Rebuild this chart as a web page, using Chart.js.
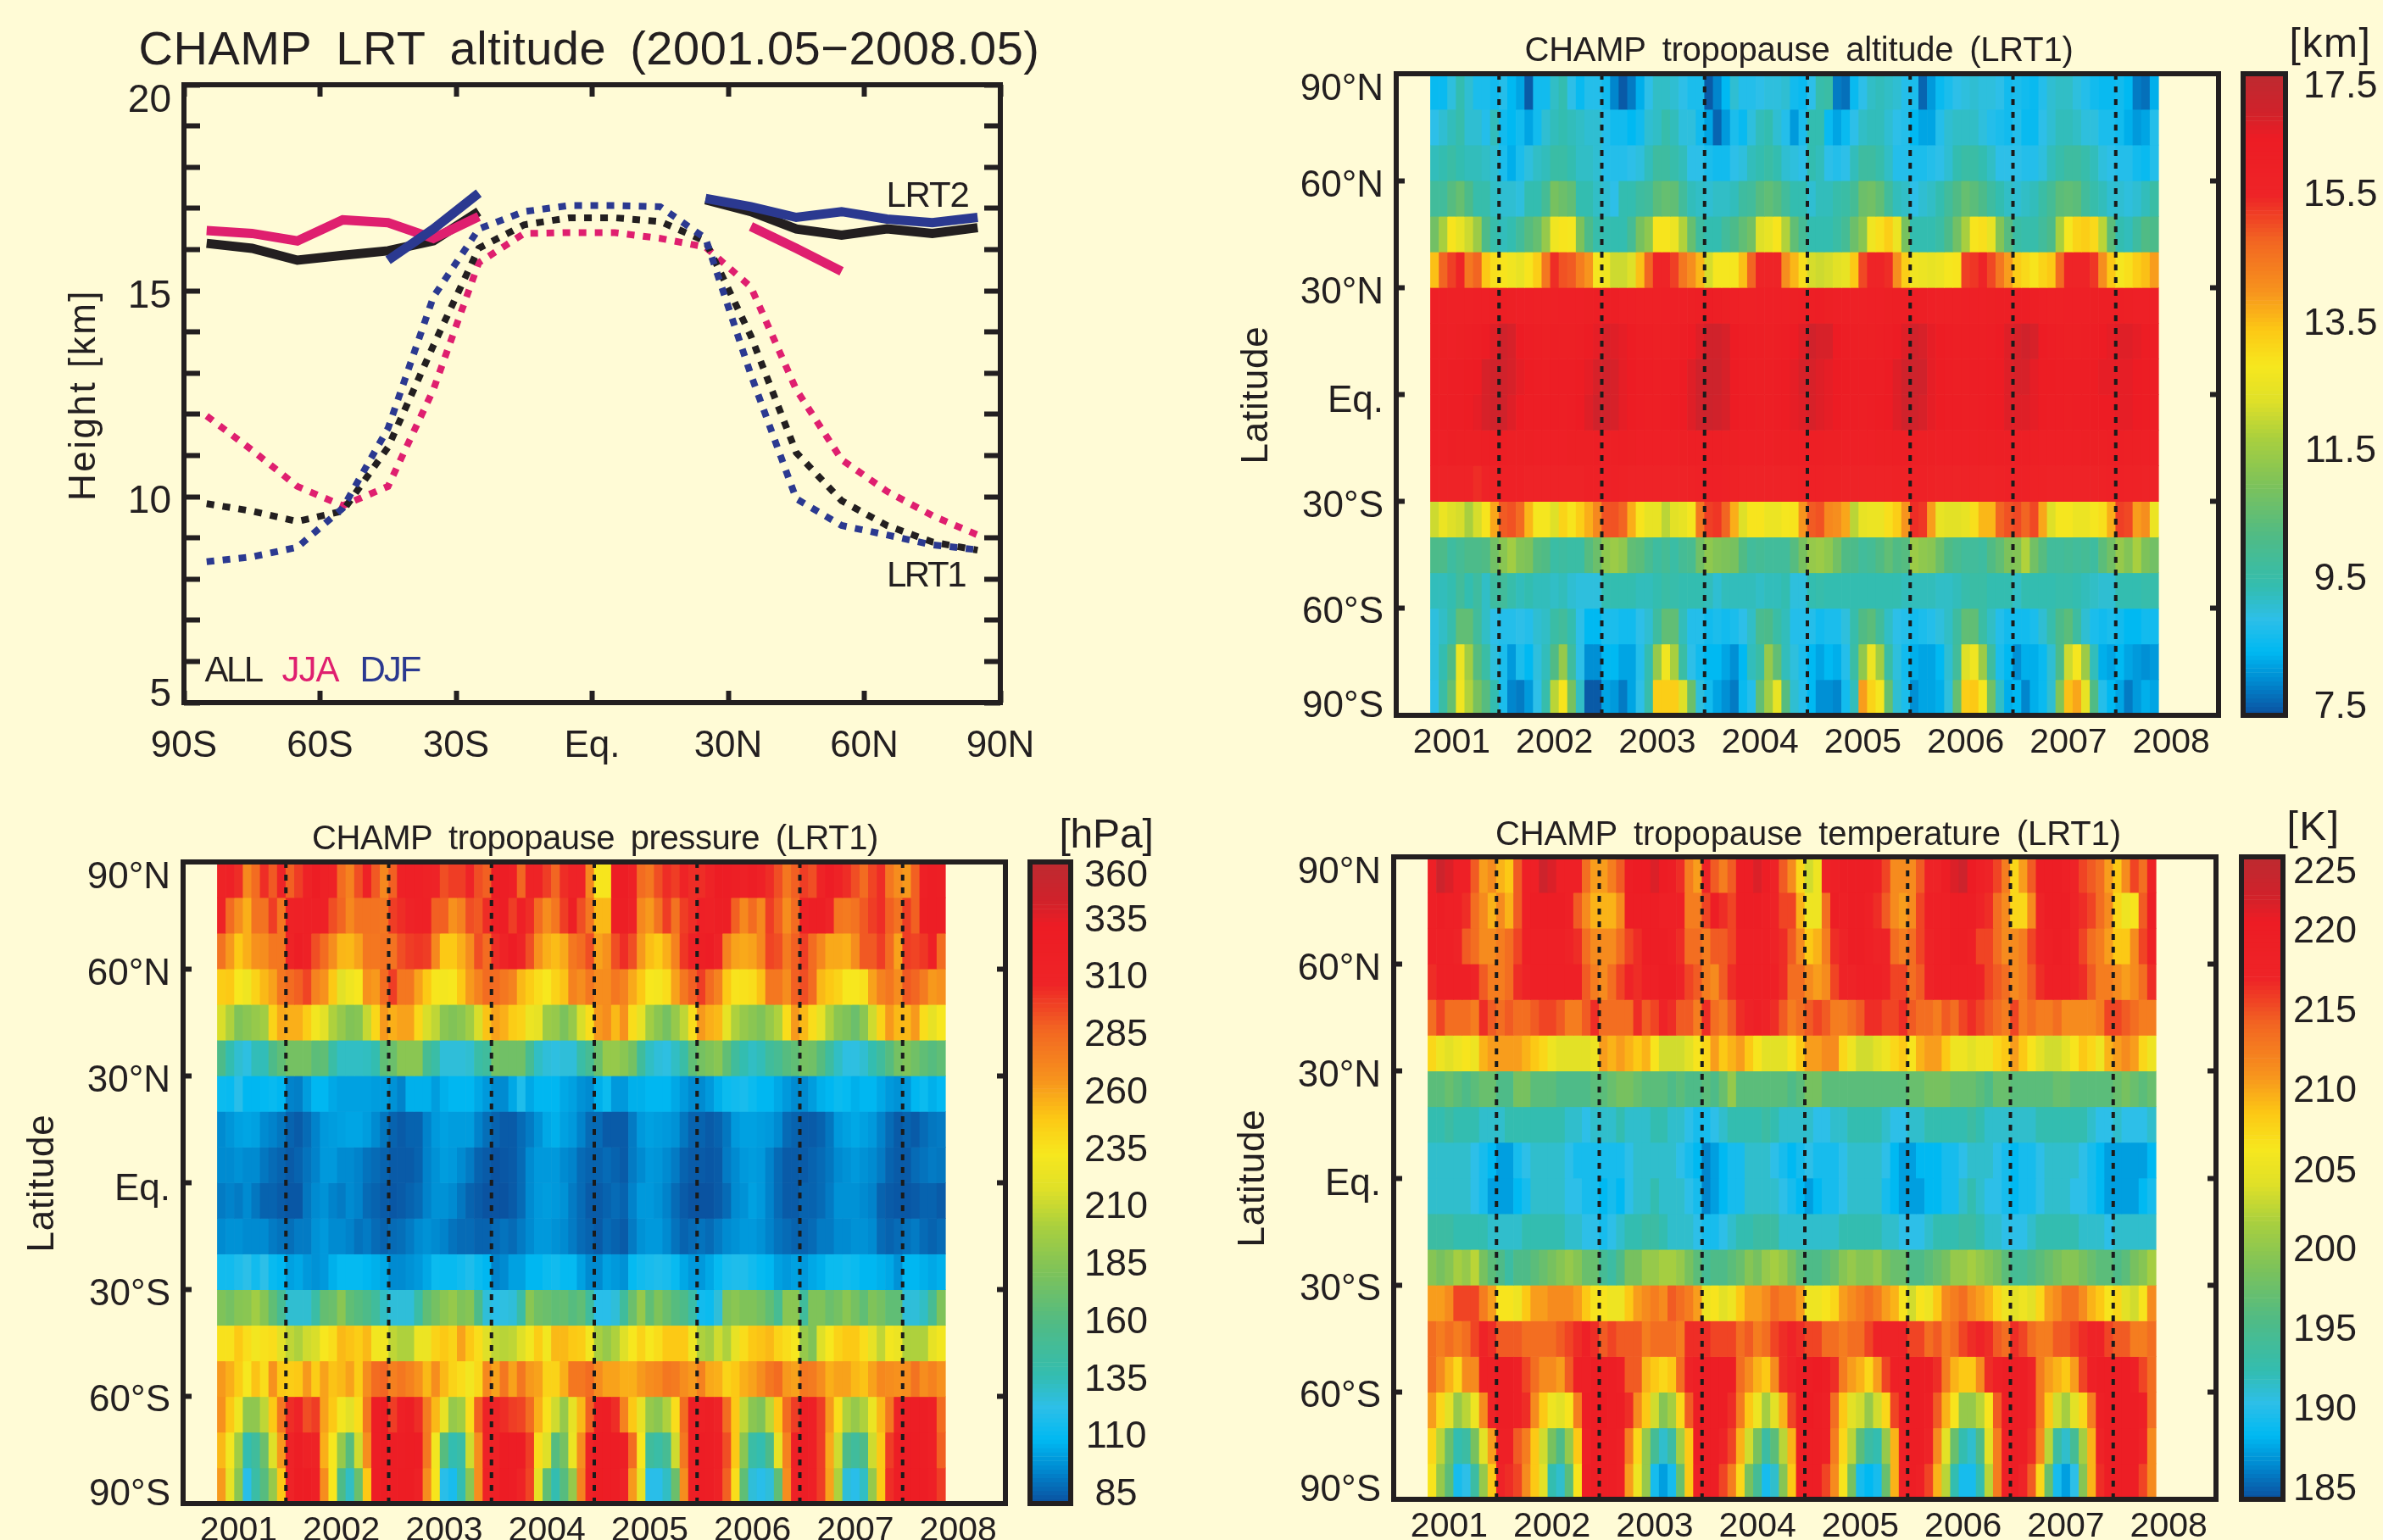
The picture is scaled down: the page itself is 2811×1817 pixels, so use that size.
<!DOCTYPE html>
<html><head><meta charset="utf-8">
<script src="https://cdn.jsdelivr.net/npm/chart.js@4"></script>
<style>html,body{margin:0;padding:0;background:#fffbd6;width:2811px;height:1817px;overflow:hidden}
canvas{position:absolute;left:0;top:0}</style></head><body>
<script>
// ---- line panel ----
const bandCentres=[-85,-75,-65,-55,-45,-35,-25,-15,-5,5,15,25,35,45,55,65,75,85];
const lrt1All=[9.83,9.65,9.4,9.65,11.2,13.67,16.03,16.6,16.77,16.77,16.68,16.2,13.9,11.07,9.9,9.3,8.9,8.7];
const lrt1Jja=[11.96,11.13,10.25,9.78,10.25,12.6,15.68,16.39,16.41,16.41,16.27,16.06,15.09,12.6,10.9,10.13,9.54,9.07];
const lrt1Djf=[8.42,8.54,8.77,9.72,11.66,14.85,16.5,16.92,17.07,17.07,17.04,16.27,12.96,9.95,9.3,9.07,8.83,8.71];
const lrt2All=[16.15,16.03,15.74,15.86,15.97,16.21,16.92,null,null,null,null,17.21,16.92,16.5,16.35,16.5,16.39,16.53];
const lrt2Jja=[16.46,16.39,16.21,16.72,16.65,16.27,16.8,null,null,null,null,null,16.56,16.03,15.47,null,null,null];
const lrt2Djf=[null,null,null,null,15.74,16.5,17.37,null,null,null,null,17.24,17.04,16.78,16.92,16.74,16.65,16.78];
const latTicksA=[-90,-60,-30,0,30,60,90];
const latLabelsA=['90S','60S','30S','Eq.','30N','60N','90N'];
const heightLabels=['20','15','10','5'];
const heightLabelPos=[19.6,14.85,9.87,5.18];
// ---- heat panels ----
const bandTops=[90,80,70,60,50,40,30,20,10,0,-10,-20,-30,-40,-50,-60,-70,-80];
const yearBoundaries=[2002,2003,2004,2005,2006,2007,2008];
const yearLabels=['2001','2002','2003','2004','2005','2006','2007','2008'];
const yearLabelPos=[2001.54,2002.54,2003.54,2004.54,2005.54,2006.54,2007.54,2008.54];
const latLabels=['90°N','60°N','30°N','Eq.','30°S','60°S','90°S'];
const latLabelPos=[85.6,58.4,28.5,-1.9,-31.4,-61.3,-87.7];
const latTickMarks=[60,30,0,-30,-60];
const altLabels=['17.5','15.5','13.5','11.5','9.5','7.5'];
const altLabelPos=[17.29,15.6,13.59,11.62,9.62,7.62];
const presLabels=['360','335','310','285','260','235','210','185','160','135','110','85'];
const presLabelPos=[354.1,334.8,310.5,285.7,261.1,236.3,211.9,187.2,162.5,137.8,113.5,88.6];
const tempLabels=['225','220','215','210','205','200','195','190','185'];
const tempLabelPos=[224,220.3,215.35,210.4,205.4,200.5,195.5,190.55,185.6];
// monthly values, May 2001 .. May 2008, one row per 10-degree band from 90N to 90S
const altitude=[
[8.6,8.6,9.1,9.5,9.2,8.8,8.8,8.7,8.9,8.5,8.3,7.6,8.7,8.7,9.3,9.5,9.0,8.6,8.9,8.9,8.7,8.0,7.6,7.9,8.4,9.0,9.3,9.3,9.2,9.0,8.8,8.8,7.6,8.0,8.5,9.2,8.9,8.9,9.0,9.1,9.1,9.2,8.7,8.6,9.0,9.6,9.7,7.9,7.8,8.6,9.0,9.3,9.4,9.3,9.2,8.9,8.8,7.7,8.2,8.6,8.8,9.0,9.1,9.2,9.1,9.1,9.0,8.7,8.8,8.7,8.6,8.9,9.2,9.3,9.3,9.1,8.9,8.7,8.6,8.6,8.7,8.5,7.9,7.8,8.4],
[9.0,9.2,9.4,9.6,9.2,9.2,8.9,9.4,8.7,8.5,8.7,8.3,8.7,9.2,9.4,9.5,9.4,9.3,9.2,9.2,8.9,8.7,8.7,8.5,8.7,9.2,9.3,9.6,9.4,9.1,9.1,8.7,8.3,7.7,8.2,8.8,8.6,9.1,9.4,9.5,9.2,8.9,8.2,8.8,9.5,9.5,8.6,8.3,8.6,9.0,9.3,9.4,9.4,9.2,9.0,8.9,8.5,8.3,8.3,8.9,9.2,9.3,9.3,9.3,9.1,8.9,8.8,8.7,8.9,8.6,8.6,9.0,9.2,9.4,9.4,9.3,9.1,9.1,8.8,8.8,8.7,8.4,8.2,8.3,8.9],
[9.4,9.5,9.7,9.5,9.4,9.4,9.3,9.2,8.8,8.4,8.8,9.1,9.3,9.4,9.7,9.7,9.5,9.3,9.3,9.2,8.9,8.9,8.9,9.0,9.1,9.4,9.8,9.8,9.6,9.4,9.0,9.0,8.8,8.7,8.7,9.0,9.1,9.4,9.5,9.7,9.5,9.2,9.1,9.0,9.5,9.4,9.0,8.9,9.0,9.4,9.8,9.8,9.6,9.3,8.9,8.9,8.8,8.8,8.9,9.0,9.2,9.5,9.7,9.7,9.5,9.3,9.0,9.0,9.0,8.9,8.9,9.1,9.4,9.6,9.8,9.8,9.6,9.4,9.1,9.0,8.9,8.9,8.7,8.6,8.9],
[9.9,9.9,10.4,10.7,10.2,9.6,9.6,9.3,9.2,9.2,9.1,9.5,9.5,10.0,11.0,10.8,10.6,9.5,9.5,9.3,9.2,9.0,9.5,9.5,9.8,9.9,10.5,10.7,10.6,9.9,9.4,9.3,9.2,9.3,9.3,9.4,9.8,9.9,10.4,10.6,10.4,9.9,9.5,9.5,9.2,9.4,9.4,9.6,9.7,10.0,10.8,10.9,10.6,9.9,9.4,9.3,9.0,9.2,9.3,9.5,9.9,10.3,10.7,10.5,10.2,9.8,9.5,9.3,9.2,9.3,9.4,9.7,10.0,10.5,10.6,10.5,9.9,9.6,9.4,9.2,9.2,9.1,9.2,9.4,9.7],
[10.9,11.8,13.0,12.6,12.2,11.6,10.2,9.6,9.4,9.5,9.9,10.4,10.7,11.5,12.8,13.0,12.9,11.1,10.2,9.6,9.5,9.5,9.5,10.0,11.0,11.4,13.0,13.0,12.7,11.9,10.7,9.8,9.5,9.5,9.9,10.2,10.6,10.9,12.4,12.6,13.0,11.9,10.6,10.0,9.5,9.5,9.5,9.7,10.0,10.8,11.3,12.8,13.1,13.4,12.7,11.0,9.5,9.5,9.5,9.7,10.2,10.9,11.8,13.0,13.1,12.6,11.2,10.4,9.7,9.6,9.6,9.9,10.2,11.8,12.9,13.3,13.4,13.2,12.0,10.5,9.5,9.4,9.8,10.3,10.2],
[13.6,14.9,15.3,15.6,14.6,14.9,13.5,13.1,13.0,12.8,12.6,13.0,13.4,14.6,15.5,15.1,15.0,14.5,14.1,12.9,12.8,12.2,12.2,12.4,13.6,14.9,15.6,15.6,15.3,14.6,14.2,13.7,12.3,12.9,12.9,12.9,13.6,14.9,15.6,15.6,15.6,14.2,13.7,13.1,12.3,12.2,12.3,12.5,12.6,13.5,15.2,15.6,15.6,15.5,14.2,13.4,12.8,12.7,12.6,12.7,12.9,13.0,15.3,15.4,15.6,15.2,14.6,14.0,13.4,13.2,13.0,13.3,13.5,14.8,15.6,15.6,15.6,15.4,14.2,13.5,12.9,13.1,13.4,13.6,14.0],
[16.0,16.0,15.9,15.9,15.9,16.0,16.0,16.1,16.2,16.1,16.0,16.0,15.9,15.9,15.9,16.0,16.0,16.0,16.1,16.2,16.3,16.2,16.0,16.0,15.9,15.9,15.9,16.0,16.0,16.0,16.1,16.2,16.3,16.2,16.1,16.0,15.9,15.9,16.0,16.0,16.0,16.0,16.1,16.2,16.2,16.3,16.1,16.0,16.0,15.9,15.9,16.0,16.0,16.1,16.2,16.2,16.3,16.2,16.0,15.9,15.9,15.9,16.0,16.0,16.0,16.1,16.2,16.2,16.3,16.3,16.2,16.0,15.9,15.9,16.0,16.0,16.0,16.1,16.2,16.2,16.2,16.1,16.0,16.0,16.0],
[16.1,16.1,16.0,16.1,16.2,16.3,16.5,16.7,16.9,16.8,16.5,16.3,16.2,16.1,16.2,16.1,16.1,16.2,16.4,16.6,16.8,16.7,16.6,16.4,16.2,16.2,16.1,16.1,16.2,16.3,16.5,16.7,16.9,16.9,16.8,16.5,16.3,16.2,16.2,16.1,16.2,16.3,16.5,16.7,16.9,16.8,16.8,16.5,16.3,16.2,16.1,16.1,16.2,16.3,16.5,16.7,16.9,16.8,16.6,16.4,16.3,16.2,16.2,16.2,16.2,16.3,16.5,16.7,16.8,16.9,16.8,16.5,16.3,16.2,16.1,16.1,16.2,16.3,16.5,16.6,16.7,16.7,16.6,16.4,16.3],
[16.2,16.2,16.3,16.3,16.4,16.5,16.8,16.9,16.9,16.8,16.6,16.4,16.3,16.2,16.3,16.3,16.3,16.4,16.6,16.8,16.9,16.8,16.6,16.5,16.3,16.3,16.2,16.3,16.3,16.5,16.7,16.9,17.0,17.0,16.8,16.5,16.3,16.2,16.2,16.2,16.3,16.4,16.6,16.8,16.8,16.7,16.6,16.5,16.4,16.3,16.3,16.3,16.3,16.5,16.7,16.9,17.0,16.9,16.6,16.4,16.3,16.2,16.2,16.3,16.3,16.4,16.5,16.7,16.8,16.8,16.6,16.4,16.4,16.3,16.3,16.3,16.3,16.4,16.6,16.6,16.6,16.6,16.5,16.4,16.3],
[16.2,16.3,16.3,16.3,16.4,16.6,16.8,16.9,16.9,16.7,16.5,16.3,16.3,16.3,16.3,16.2,16.3,16.5,16.7,16.9,16.9,16.8,16.6,16.4,16.3,16.2,16.2,16.3,16.4,16.5,16.7,16.9,17.0,16.9,16.8,16.5,16.3,16.3,16.2,16.2,16.3,16.4,16.6,16.7,16.8,16.7,16.6,16.5,16.3,16.3,16.2,16.3,16.4,16.5,16.7,16.9,16.9,16.8,16.6,16.4,16.3,16.3,16.2,16.2,16.3,16.4,16.5,16.7,16.7,16.7,16.6,16.4,16.3,16.3,16.2,16.3,16.3,16.4,16.5,16.5,16.6,16.6,16.5,16.4,16.3],
[16.0,16.0,16.2,16.1,16.1,16.1,16.2,16.2,16.2,16.1,16.1,16.1,16.0,16.0,16.0,16.0,16.1,16.1,16.1,16.2,16.2,16.1,16.2,16.1,16.0,16.0,16.0,16.0,16.0,16.1,16.2,16.2,16.2,16.2,16.1,16.1,16.0,16.0,16.0,16.0,16.1,16.1,16.2,16.2,16.2,16.2,16.1,16.1,16.0,16.0,16.0,16.0,16.1,16.1,16.2,16.2,16.2,16.1,16.1,16.0,16.0,16.0,16.0,16.0,16.1,16.1,16.2,16.2,16.2,16.2,16.1,16.0,16.0,16.0,16.0,16.0,16.1,16.1,16.1,16.2,16.2,16.1,16.1,16.0,16.0],
[15.7,15.7,15.7,15.7,15.7,15.5,15.7,15.8,15.9,15.9,15.9,15.7,15.7,15.7,15.7,15.7,15.7,15.7,15.9,15.9,16.0,15.9,15.8,15.7,15.7,15.7,15.7,15.7,15.7,15.7,15.8,15.9,16.0,16.0,15.9,15.8,15.7,15.7,15.7,15.7,15.7,15.7,15.8,15.9,15.9,15.9,15.8,15.8,15.7,15.7,15.7,15.7,15.7,15.7,15.8,15.8,15.9,15.9,15.8,15.7,15.7,15.6,15.7,15.7,15.7,15.7,15.8,15.9,15.9,15.9,15.8,15.8,15.7,15.7,15.7,15.7,15.7,15.7,15.8,15.9,15.9,15.8,15.8,15.7,15.7],
[12.2,12.7,12.4,12.3,11.8,12.3,13.0,13.9,15.0,15.1,14.8,13.7,12.9,12.9,12.4,13.3,13.0,13.4,13.8,14.3,15.1,15.1,14.9,13.8,13.0,12.6,12.6,12.0,12.5,12.6,12.9,14.6,15.3,15.4,14.9,13.8,12.4,13.0,13.0,12.7,12.7,12.9,13.0,14.1,15.0,15.1,14.3,14.2,13.9,12.0,12.6,12.7,12.7,13.1,13.4,14.1,15.5,15.4,14.0,12.6,12.5,12.5,12.6,13.1,13.7,13.7,14.9,15.1,15.2,14.9,15.2,13.9,12.4,12.9,12.9,12.7,12.7,12.9,13.1,13.8,15.3,15.2,14.0,14.2,12.7],
[10.2,10.2,9.8,10.0,10.2,10.2,10.3,10.9,11.3,11.7,11.2,11.1,10.4,10.3,9.7,9.8,9.7,9.7,10.4,10.8,11.4,11.6,11.4,10.6,10.5,10.1,9.8,10.0,9.7,10.0,10.1,10.9,11.4,11.2,11.1,11.0,10.3,9.9,10.0,9.9,9.9,9.9,10.4,11.0,11.5,11.6,11.4,10.9,10.3,10.2,9.9,10.0,10.3,10.6,10.3,10.4,11.6,11.4,11.3,10.8,10.3,10.1,9.9,9.9,9.8,10.3,10.6,11.1,11.2,11.9,10.9,10.4,9.9,9.9,10.0,9.9,10.0,9.8,10.5,10.9,11.5,11.2,11.8,11.1,10.9],
[9.4,9.4,9.5,9.9,9.5,9.8,9.3,9.8,9.9,9.6,9.4,9.5,9.4,9.4,9.3,9.4,9.2,9.1,9.1,9.1,9.5,9.5,9.5,9.5,9.4,9.4,9.5,9.7,9.6,9.5,9.5,9.5,9.4,9.2,9.4,9.4,9.4,9.4,9.3,9.4,9.4,9.5,9.1,9.1,9.5,9.6,9.5,9.5,9.5,9.5,9.5,9.5,9.5,9.5,9.5,9.4,9.4,9.4,9.4,9.3,9.3,9.4,9.6,9.7,9.7,9.5,9.5,9.5,9.3,9.5,9.5,9.5,9.5,9.6,9.6,9.5,9.4,9.3,9.2,9.2,9.5,9.5,9.5,9.6,9.6],
[9.1,9.3,9.6,10.6,10.6,9.9,9.3,9.0,8.9,8.9,9.0,8.9,9.2,9.3,9.7,9.9,9.5,9.0,8.5,8.5,8.8,8.8,8.7,8.7,9.0,9.2,9.8,10.6,10.6,9.4,8.9,8.9,8.7,8.8,8.7,8.8,9.0,9.3,10.1,10.2,9.7,9.4,8.9,8.9,8.9,8.7,8.8,8.8,9.1,9.6,10.3,10.5,9.9,9.3,9.0,8.9,8.7,8.8,8.9,9.1,9.3,9.8,10.6,10.6,9.7,9.3,8.9,8.7,8.7,8.7,8.8,9.2,9.6,10.2,10.5,9.8,9.2,8.8,8.7,8.8,8.7,8.5,8.5,8.7,8.7],
[9.1,9.5,10.3,12.7,11.7,10.4,9.7,9.1,8.8,8.2,8.8,8.5,9.1,9.4,10.3,11.5,9.8,9.0,8.1,8.1,8.5,8.5,8.3,8.3,8.9,9.5,11.5,12.8,11.8,9.7,9.0,8.7,8.5,8.5,8.3,8.1,8.5,9.4,9.7,11.5,10.6,9.4,9.1,8.8,8.5,8.3,8.5,8.4,8.9,9.7,11.4,12.7,11.7,9.7,9.1,8.7,8.4,8.3,8.3,8.5,9.2,9.9,12.4,12.8,11.6,9.8,8.8,8.5,8.1,8.4,8.4,8.6,9.2,10.2,12.2,12.9,11.6,9.4,8.4,8.3,8.5,8.3,8.2,8.1,8.2],
[9.0,9.7,10.7,12.8,11.9,11.0,10.4,9.5,8.8,8.0,7.9,8.2,9.0,9.6,12.0,13.0,11.0,9.3,7.6,7.6,8.3,8.2,7.9,8.3,9.0,9.6,13.4,13.4,13.4,12.4,10.8,9.1,8.7,8.3,8.1,7.9,8.6,8.9,10.6,11.7,12.6,10.4,9.2,8.9,8.5,8.1,8.1,8.0,8.7,9.4,14.0,13.3,12.9,10.7,9.2,8.8,8.1,8.3,8.3,8.4,9.1,10.7,13.4,13.5,12.9,10.9,9.3,8.4,8.5,8.0,8.4,8.6,9.2,11.2,13.6,13.9,12.6,10.3,8.9,8.5,8.3,7.9,8.2,8.4,8.3]
];
const pressure=[
[312,318,305,272,285,305,292,310,290,300,315,330,318,315,285,275,295,315,292,272,290,318,320,320,315,310,295,300,300,308,295,290,330,325,320,288,312,312,300,288,305,310,310,272,236,236,328,328,318,285,280,295,305,300,312,305,305,312,330,328,322,318,325,318,305,295,280,290,300,295,312,328,315,305,295,285,298,305,280,270,265,290,320,325,322],
[315,285,270,258,282,282,300,280,315,318,320,320,318,295,288,272,282,282,282,280,300,305,310,318,318,290,290,268,275,295,292,305,322,325,300,320,305,285,270,280,300,322,295,280,255,255,322,322,310,272,265,282,300,282,300,305,320,318,322,322,290,272,285,272,300,290,270,285,318,322,322,308,280,278,282,292,300,305,290,282,300,290,322,325,325],
[282,265,250,258,268,270,280,280,312,325,318,295,285,270,256,255,262,280,280,282,282,295,300,302,300,272,250,250,258,270,295,285,305,312,328,308,295,268,258,254,260,280,285,295,262,268,295,305,295,265,253,248,258,275,302,318,322,328,310,275,262,260,262,272,298,295,278,290,300,285,272,260,260,258,270,292,292,300,285,262,300,298,302,320,285],
[248,250,235,230,245,255,262,280,285,290,298,275,268,250,222,230,235,268,265,285,300,280,280,262,250,236,233,235,250,265,275,285,285,280,275,255,248,240,235,245,252,275,270,280,270,270,280,275,260,250,235,233,240,262,280,290,300,285,275,250,237,238,240,252,280,280,270,290,295,285,255,250,245,235,235,238,262,275,280,270,292,288,278,265,268],
[218,205,185,190,195,200,245,260,258,258,248,232,222,205,195,186,188,212,243,265,258,262,262,243,218,210,190,186,190,200,218,252,262,258,248,245,228,225,198,195,183,195,218,240,265,270,255,268,240,225,200,190,180,195,210,240,265,258,255,225,205,195,190,185,195,205,240,265,255,240,225,205,190,185,175,190,215,245,265,255,255,265,240,225,235],
[160,140,132,128,138,138,160,170,180,180,180,168,170,145,135,135,135,136,140,170,175,190,190,190,155,145,130,130,130,132,145,150,180,178,178,178,155,135,130,128,130,130,145,155,175,195,195,190,180,150,135,130,128,135,145,170,180,185,190,170,150,140,135,138,150,155,165,170,180,178,165,148,135,128,128,132,140,150,165,180,185,178,170,165,170],
[116,115,125,112,112,113,115,112,98,97,105,112,112,108,106,106,106,106,105,105,102,98,110,110,110,105,110,112,112,112,108,104,100,100,108,122,108,112,112,112,108,106,102,100,110,116,104,104,110,110,112,112,112,108,104,100,100,104,110,116,118,120,116,112,112,108,104,100,100,105,110,112,116,114,110,112,112,108,104,102,104,112,116,110,113],
[100,103,106,107,106,100,98,95,90,88,92,98,104,105,106,107,107,105,100,95,90,88,90,90,98,104,106,105,105,105,98,93,90,88,88,92,96,102,108,110,106,104,98,92,92,88,88,88,96,104,106,105,104,102,95,90,90,88,90,95,104,106,106,105,104,100,92,90,88,88,90,95,104,106,108,106,104,98,92,88,90,88,92,95,96],
[100,100,102,100,100,95,92,90,88,90,94,98,104,104,100,100,98,94,92,90,88,88,88,90,98,102,105,104,100,96,90,88,86,87,88,92,100,104,104,104,100,98,92,90,90,92,90,88,96,100,104,103,100,96,90,88,88,87,88,96,100,104,105,104,98,92,88,88,88,90,92,95,100,102,104,102,100,96,90,88,88,92,94,96,95],
[96,98,96,100,95,90,90,88,87,87,95,100,102,98,96,100,98,92,90,88,87,88,90,92,98,102,102,100,95,90,88,86,86,86,88,92,100,104,105,104,102,96,92,88,88,90,92,90,98,104,104,102,98,92,88,86,86,86,88,92,100,102,106,104,98,92,88,88,90,90,92,96,102,102,102,100,98,90,88,87,87,88,90,90,88],
[100,102,102,100,100,100,96,94,93,96,96,102,104,100,100,98,94,96,92,90,92,93,96,100,102,100,98,94,92,92,90,90,92,94,92,96,100,104,104,102,100,96,92,90,88,92,90,88,96,102,104,104,100,94,90,92,94,92,96,100,102,104,104,102,98,94,92,90,90,92,96,96,100,100,102,102,100,92,90,92,94,96,92,90,92],
[118,118,122,126,118,126,115,112,106,108,104,102,104,110,114,114,114,112,110,108,100,100,102,104,108,116,115,115,118,122,116,112,98,100,106,106,112,112,116,118,114,114,106,100,100,106,104,102,114,118,120,122,120,115,108,104,104,108,114,120,122,122,118,114,112,106,104,106,104,108,110,116,116,118,116,112,112,110,108,102,112,112,110,108,110],
[185,180,188,190,200,188,170,155,132,132,132,145,172,175,190,170,165,160,150,135,130,130,130,145,170,180,190,195,185,188,160,130,125,128,130,145,190,178,175,170,172,165,170,150,125,125,130,150,175,195,170,185,175,165,160,145,118,116,130,185,190,185,185,180,170,155,190,190,150,185,185,175,180,190,180,170,185,180,170,170,130,130,135,155,185],
[238,238,250,240,232,238,240,222,210,205,215,218,235,240,255,252,248,255,232,232,210,205,205,228,228,245,250,245,262,250,240,220,210,208,210,220,232,248,232,255,255,250,248,232,203,195,205,220,235,245,235,240,250,250,250,230,205,200,215,205,225,240,250,252,255,245,240,235,195,185,220,235,245,250,250,240,225,210,232,228,205,205,205,225,232],
[265,258,248,234,252,240,268,250,248,250,265,248,262,252,255,262,248,270,285,288,276,280,275,268,255,270,255,245,240,232,242,272,262,280,262,280,265,262,245,245,258,280,280,285,270,262,262,258,258,265,270,272,280,278,270,265,275,260,258,245,250,258,262,270,280,285,265,262,280,278,270,258,262,262,255,252,262,272,270,268,270,282,270,275,268],
[268,250,230,192,192,210,250,280,305,310,295,300,262,250,232,222,240,280,325,330,300,320,325,305,278,255,225,195,200,240,290,310,308,305,300,298,285,258,238,215,195,225,255,290,322,325,305,275,250,225,195,190,205,240,285,325,320,322,310,285,250,210,190,185,210,250,285,300,322,320,300,265,240,205,195,205,228,255,280,310,322,325,325,320,285],
[255,232,200,140,150,175,220,265,310,325,315,312,258,235,195,165,215,270,325,330,325,325,330,328,280,232,165,140,145,215,270,310,315,330,328,328,300,240,220,165,180,228,270,315,328,328,328,322,285,235,150,145,155,215,280,325,328,325,320,295,250,190,145,140,160,225,275,320,325,320,300,260,215,160,150,160,215,250,300,325,328,330,325,320,290],
[265,225,190,125,145,165,195,250,310,330,330,320,270,235,160,135,175,250,328,330,325,330,330,318,270,236,125,120,140,190,270,315,320,332,328,312,298,225,170,140,165,195,275,320,330,328,325,310,265,225,125,125,135,175,270,322,328,325,315,290,240,170,130,125,130,170,270,318,325,320,300,262,205,130,125,135,195,250,305,325,330,330,328,320,300]
];
const temperature=[
[219,223,222,219,219,215,211,212,210,209,215,219,219,223,222,219,219,219,214,211,211,213,215,220,221,221,222,221,220,217,213,211,218,215,213,215,220,220,222,220,218,215,212,208,204,206,218,219,220,220,220,220,219,216,212,212,212,215,218,218,220,222,223,221,219,218,216,213,208,211,215,220,220,220,219,218,216,215,214,211,209,212,216,214,219],
[219,220,219,219,217,214,212,210,212,210,215,219,220,220,220,220,219,215,212,210,210,210,212,220,220,220,220,219,219,219,213,213,216,220,217,216,220,220,220,219,218,216,216,210,206,206,214,220,219,220,220,219,217,215,212,211,212,216,219,219,219,220,220,220,218,217,214,212,208,208,212,218,220,220,220,218,217,216,214,212,208,206,207,215,220],
[219,219,219,218,215,214,212,212,213,214,216,219,219,219,219,219,218,217,214,212,212,212,214,216,217,220,220,220,219,217,214,214,213,215,215,216,219,219,219,219,218,217,215,212,209,210,213,217,218,220,220,219,218,218,214,213,214,216,218,219,219,220,220,219,216,216,214,212,212,213,216,218,219,220,219,218,216,214,213,211,209,209,212,216,219],
[217,219,219,219,219,218,215,213,213,214,217,218,219,219,219,219,219,219,215,213,212,214,216,218,217,219,219,220,220,218,216,215,213,212,215,217,219,219,219,219,219,217,214,214,212,211,212,216,218,218,219,219,219,218,216,216,214,215,218,219,219,219,219,219,218,216,215,214,212,213,215,217,219,219,219,218,217,215,213,213,212,211,212,214,217],
[214,216,214,214,214,213,217,215,214,215,214,214,215,216,216,215,213,213,215,217,214,214,214,214,217,215,216,218,217,215,215,213,217,214,213,215,217,218,219,218,217,215,213,214,215,216,215,213,213,214,215,217,217,216,216,217,215,214,214,213,215,214,216,217,216,215,214,213,216,213,214,213,213,214,212,212,212,212,213,216,216,215,214,213,213],
[208,206,205,206,207,206,210,211,211,211,211,210,209,208,206,205,205,205,205,206,211,210,211,210,209,210,207,204,204,204,205,207,208,211,209,210,211,209,207,205,205,205,207,209,211,211,212,212,208,206,204,204,205,206,208,209,207,210,211,211,209,206,206,205,206,206,208,209,211,209,207,205,204,204,205,207,209,208,206,210,211,212,211,208,206],
[197,197,198,197,196,197,198,198,196,196,199,199,197,197,197,196,196,196,196,197,197,198,199,199,198,197,197,197,196,197,196,196,197,196,198,201,197,197,197,197,197,197,196,197,199,199,197,197,197,197,197,197,197,197,197,197,198,198,199,199,199,198,198,198,197,196,198,198,197,197,197,197,197,198,198,197,197,197,197,197,198,199,198,197,198],
[193,193,194,193,193,193,192,192,192,193,193,193,193,193,193,193,192,192,191,192,192,192,193,192,192,192,193,193,192,192,191,190,190,191,192,193,193,193,193,194,193,192,192,192,192,191,191,192,192,193,193,193,193,192,191,191,192,192,193,193,193,193,193,194,193,192,192,192,192,192,192,193,193,193,193,193,193,192,191,191,192,191,191,191,192],
[192,192,192,192,192,191,190,189,188,188,190,191,192,192,192,192,191,190,190,190,190,190,190,191,192,192,192,192,192,191,190,189,187,188,189,190,190,192,192,192,191,190,189,190,191,190,190,190,191,192,192,192,192,191,189,188,188,189,189,189,190,190,191,192,192,192,191,190,189,190,190,191,192,192,192,192,191,190,189,188,188,188,188,188,189],
[192,192,192,192,192,191,190,188,188,188,189,190,192,192,192,192,191,191,190,190,189,190,189,191,192,192,193,192,192,192,191,190,187,188,189,190,190,192,192,192,192,191,190,189,188,189,190,190,191,192,192,192,192,190,189,188,188,188,189,189,190,190,192,193,192,191,191,190,189,190,190,191,192,192,192,191,191,190,189,188,188,188,188,189,190],
[194,194,194,193,193,193,193,192,192,192,192,193,193,193,193,193,192,192,191,191,190,191,192,193,193,194,194,193,192,192,192,191,190,190,191,192,193,193,194,194,194,192,192,192,192,192,192,192,193,193,193,193,193,192,192,191,191,191,192,193,193,193,194,194,193,192,192,191,191,191,192,193,193,193,193,193,192,192,192,191,192,192,192,192,192],
[200,199,200,202,201,203,199,197,196,194,196,196,197,198,199,200,201,200,198,198,195,194,196,199,199,201,201,202,202,201,199,197,195,196,196,197,198,200,199,201,202,201,199,197,196,196,197,198,200,201,200,200,201,199,198,198,196,196,197,198,199,201,201,202,201,200,199,197,195,195,196,197,198,199,200,200,199,198,197,197,196,197,199,200,202],
[211,211,212,216,216,216,213,211,207,207,206,209,211,211,212,212,212,211,209,207,207,206,206,209,211,212,213,212,215,214,213,211,206,207,205,206,209,211,211,212,214,213,213,211,206,206,207,208,211,212,213,214,213,211,210,207,204,207,206,209,212,213,214,212,211,210,208,206,205,206,205,208,211,212,214,214,212,210,209,207,208,205,204,207,212],
[214,213,214,213,214,216,218,217,215,215,215,214,214,214,214,215,216,217,219,217,215,216,215,215,215,213,214,214,214,213,217,217,217,216,216,216,214,215,213,214,216,217,218,217,216,216,214,214,213,214,214,216,218,218,218,218,216,216,214,215,213,214,216,217,218,217,215,214,217,216,214,213,213,215,215,216,217,218,218,216,215,215,213,213,214],
[214,212,210,208,212,212,219,219,220,220,219,216,214,212,212,211,215,219,219,220,220,220,219,215,215,210,209,208,209,214,218,219,220,220,220,220,214,212,210,209,212,217,218,220,220,221,220,217,213,211,210,208,211,216,219,219,220,220,220,217,213,210,209,209,212,217,219,220,220,220,218,213,211,210,209,211,216,219,220,220,220,220,219,216,214],
[211,208,205,201,203,206,212,218,220,220,219,217,212,209,206,205,207,213,220,220,221,220,220,217,212,209,204,200,202,208,215,220,220,220,220,217,213,209,206,202,205,210,216,220,221,220,219,214,209,205,204,201,204,208,216,219,220,220,219,215,210,207,201,201,203,207,215,220,220,220,218,213,209,204,202,205,208,213,219,220,220,220,220,219,214],
[208,203,198,193,194,199,205,211,219,219,215,213,209,204,199,196,201,209,219,220,220,220,219,213,208,201,195,192,194,202,209,220,220,220,218,216,210,204,199,194,197,203,210,220,220,220,219,213,208,203,197,194,193,201,210,219,220,220,218,212,205,198,193,192,196,205,213,219,220,220,217,212,203,194,192,195,202,210,218,220,220,220,220,218,212],
[207,201,197,190,191,194,201,209,218,217,216,212,209,205,193,192,197,207,220,220,220,220,219,211,206,201,190,188,190,198,209,219,220,220,216,213,208,199,195,190,192,200,209,220,220,220,216,212,207,199,190,189,190,198,210,219,220,219,216,210,203,193,190,190,193,203,213,219,220,218,215,208,198,190,188,191,200,210,217,220,220,220,220,216,212]
];
// colour table: [fraction of the bar, colour]
const colourStops=[[0,'#0b4f9e'],[.053,'#0089d0'],[.10,'#00b9f2'],[.15,'#2dbfe8'],[.20,'#33bdb0'],[.28,'#50bb85'],[.36,'#7dc25a'],[.43,'#a8cf3f'],[.49,'#dfe028'],[.545,'#f7e71e'],[.60,'#fcc915'],[.66,'#f7941d'],[.74,'#f26522'],[.785,'#ef3a25'],[.81,'#ee2427'],[.90,'#ed1c24'],[.94,'#d0222b'],[1,'#bd2a30']];

const W=2811,H=1817,INK='#231f20',FONT='"Liberation Sans"';
const hex=h=>[1,3,5].map(i=>parseInt(h.substr(i,2),16));
function ramp(t){t=Math.max(0,Math.min(1,t));
  for(let i=1;i<colourStops.length;i++){const [b,cb]=colourStops[i];
    if(t<=b){const [a,ca]=colourStops[i-1],f=(t-a)/(b-a),A=hex(ca),B=hex(cb);
      return `rgb(${A.map((v,k)=>Math.round(v+(B[k]-v)*f)).join(',')})`;}}
  return colourStops[colourStops.length-1][1];}
// an axis takes exactly n pixels, so each plot area lands where the frame is
const sized=n=>({afterFit(s){if(s.isHorizontal())s.height=n;else s.width=n;}});
const font=(size)=>({family:FONT,size});
const framePlugin={id:'frame',afterDraw(c){const a=c.chartArea,x=c.ctx;x.save();x.strokeStyle=INK;x.lineWidth=6;x.lineJoin='miter';
  x.strokeRect(a.left,a.top,a.right-a.left,a.bottom-a.top);x.restore();}};
const textPlugin={id:'words',afterDraw(c,_,o){const x=c.ctx;(o.items||[]).forEach(t=>{x.save();
  x.font=`${t.size}px ${FONT}`;x.fillStyle=t.color||INK;x.textBaseline='middle';x.textAlign='center';
  x.translate(t.x,t.y);if(t.rot)x.rotate(-Math.PI/2);
  if(t.gap)x.wordSpacing=t.gap+'px';
  if(t.w){const m=x.measureText(t.s).width;x.letterSpacing=((t.w-m)/t.s.length)+'px';}
  x.fillText(t.s,0,0);x.restore();});}};
function newCanvas(){const c=document.createElement('canvas');c.width=W;c.height=H;c.style.width=W+'px';c.style.height=H+'px';document.body.appendChild(c);return c.getContext('2d');}
function tickAxis(position,values,len){return {type:'linear',position,weight:-1,min:-90,max:90,...sized(0),
  afterBuildTicks(s){s.ticks=values.map(v=>({value:v}));},
  ticks:{display:false},border:{display:false},grid:{drawOnChartArea:false,tickLength:-len,tickWidth:6,tickColor:INK,z:2}};}

function heatPanel(grid,vmin,vmax,area,words){
  const months=grid[0].map((_,c)=>2001+(4.5+c)/12);
  const datasets=grid.map((row,r)=>({type:'bar',xAxisID:'x',yAxisID:'y',order:2,grouped:false,barPercentage:1,categoryPercentage:1,
    data:row.map((v,c)=>({x:months[c],y:[bandTops[r]-10,bandTops[r]]})),
    backgroundColor:row.map(v=>ramp((v-vmin)/(vmax-vmin)))}));
  yearBoundaries.forEach(yr=>datasets.push({type:'line',xAxisID:'x',yAxisID:'y',order:-1,
    data:[{x:yr,y:-90},{x:yr,y:90}],borderColor:'#1a1a1a',borderWidth:4,borderDash:[7,8],pointRadius:0}));
  new Chart(newCanvas(),{data:{datasets},plugins:[framePlugin,textPlugin],options:{responsive:false,animation:false,devicePixelRatio:1,
    layout:{padding:{left:0,bottom:0,top:area.t,right:W-area.r}},
    plugins:{legend:{display:false},tooltip:{enabled:false},words:{items:words}},
    scales:{
      x:{type:'linear',offset:false,position:'bottom',min:2001,max:2009,...sized(H-area.b),afterBuildTicks(s){s.ticks=yearLabelPos.map(v=>({value:v}));},
        grid:{display:false},border:{display:false},
        ticks:{color:INK,font:font(41),padding:0,maxRotation:0,autoSkip:false,callback:(v,i)=>yearLabels[i]}},
      y:{type:'linear',position:'left',min:-90,max:90,...sized(area.l),afterBuildTicks(s){s.ticks=latLabelPos.map(v=>({value:v}));},
        grid:{display:false},border:{display:false},
        ticks:{color:INK,font:font(44),padding:7,autoSkip:false,callback:(v,i)=>latLabels[i]}},
      yl:tickAxis('left',latTickMarks,10),
      yr:tickAxis('right',latTickMarks,10)
    }}});
}
function colourBar(vmin,vmax,positions,labels,area,padding){
  const levels=[];const n=150;for(let i=0;i<n;i++)levels.push(vmin+(vmax-vmin)*(i+.5)/n);
  new Chart(newCanvas(),{type:'bar',data:{datasets:[{data:levels.map(v=>({y:v,x:[0,1]})),backgroundColor:levels.map(v=>ramp((v-vmin)/(vmax-vmin))),barPercentage:1,categoryPercentage:1}]},
    plugins:[framePlugin],options:{indexAxis:'y',responsive:false,animation:false,devicePixelRatio:1,
    layout:{padding:{left:area.l,top:area.t,bottom:H-area.b,right:0}},
    plugins:{legend:{display:false},tooltip:{enabled:false}},
    scales:{x:{type:'linear',min:0,max:1,display:false},
      y:{type:'linear',offset:false,position:'right',min:vmin,max:vmax,...sized(W-area.r),afterBuildTicks(s){s.ticks=positions.map(v=>({value:v}));},
        grid:{display:false},border:{display:false},
        ticks:{color:INK,font:font(45),padding,crossAlign:'center',autoSkip:false,callback:(v,i)=>labels[i]}}}}});
}
// ---- panel A ----
(function(){
  const area={l:217,r:1180,t:100,b:829};
  const line=(vals,color,solid)=>({type:'line',data:vals.map((v,i)=>({x:bandCentres[i],y:v})),borderColor:color,
    borderWidth:solid?11:8,borderDash:solid?[]:[9,10],pointRadius:0,tension:0,spanGaps:false,borderJoinStyle:'miter',xAxisID:'x',yAxisID:'y'});
  const RED='#df1f6f',BLUE='#2b3990';
  const tickGrid=len=>({drawOnChartArea:false,tickLength:-len,tickWidth:6,tickColor:INK,z:2});
  new Chart(newCanvas(),{data:{datasets:[
      line(lrt2Djf,BLUE,true),line(lrt2Jja,RED,true),line(lrt2All,INK,true),
      line(lrt1Djf,BLUE,false),line(lrt1All,INK,false),line(lrt1Jja,RED,false)]},
    plugins:[framePlugin,textPlugin],options:{responsive:false,animation:false,devicePixelRatio:1,
    layout:{padding:{left:0,bottom:0,top:area.t,right:W-area.r}},
    plugins:{legend:{display:false},tooltip:{enabled:false},words:{items:[
      {s:'CHAMP LRT altitude (2001.05−2008.05)',x:695,y:61,size:56,w:1063,gap:12},
      {s:'Height [km]',x:100,y:466,size:44,rot:true,w:250},
      {s:'LRT2',x:1094,y:232,size:42,w:97},{s:'LRT1',x:1092,y:680,size:42,w:92},
      {s:'ALL',x:275,y:792,size:42,w:67},{s:'JJA',x:366,y:792,size:42,color:RED,w:67},{s:'DJF',x:460,y:792,size:42,color:BLUE,w:71}
    ]}},
    scales:{
      x:{type:'linear',position:'bottom',min:-90,max:90,...sized(H-area.b),afterBuildTicks(s){s.ticks=latTicksA.map(v=>({value:v}));},
        border:{display:false},grid:tickGrid(14),
        ticks:{color:INK,font:font(44),padding:39,maxRotation:0,autoSkip:false,callback:(v,i)=>latLabelsA[i]}},
      xt:{type:'linear',position:'top',min:-90,max:90,...sized(0),afterBuildTicks(s){s.ticks=latTicksA.map(v=>({value:v}));},
        border:{display:false},grid:tickGrid(14),ticks:{display:false}},
      y:{type:'linear',position:'left',min:5,max:20,...sized(area.l),afterBuildTicks(s){s.ticks=heightLabelPos.map(v=>({value:v}));},
        grid:{display:false},border:{display:false},
        ticks:{color:INK,font:font(46),padding:7,autoSkip:false,callback:(v,i)=>heightLabels[i]}},
      yl:{type:'linear',position:'left',weight:-1,min:5,max:20,...sized(0),ticks:{display:false,stepSize:1,autoSkip:false},border:{display:false},grid:tickGrid(19)},
      yr:{type:'linear',position:'right',min:5,max:20,...sized(0),ticks:{display:false,stepSize:1,autoSkip:false},border:{display:false},grid:tickGrid(19)}
    }}});
})();
// ---- heat panels ----
heatPanel(altitude,7.5,17.5,{l:1647,r:2617,t:87,b:844},[
  {s:'CHAMP tropopause altitude (LRT1)',x:2122,y:61,size:40,w:647,gap:8},
  {s:'Latitude',x:1483,y:466,size:44,rot:true,w:163},
  {s:'[km]',x:2749,y:54,size:48,w:97}]);
colourBar(7.5,17.5,altLabelPos,altLabels,{l:2646,r:2696,t:87,b:844},13);
heatPanel(pressure,85,360,{l:216,r:1186,t:1017,b:1774},[
  {s:'CHAMP tropopause pressure (LRT1)',x:702,y:991,size:40,w:668,gap:8},
  {s:'Latitude',x:51,y:1396,size:44,rot:true,w:163},
  {s:'[hPa]',x:1305,y:987,size:48,w:111}]);
colourBar(85,360,presLabelPos,presLabels,{l:1215,r:1263,t:1017,b:1774},8);
heatPanel(temperature,185,225,{l:1644,r:2614,t:1011,b:1769},[
  {s:'CHAMP tropopause temperature (LRT1)',x:2133,y:986,size:40,w:738,gap:8},
  {s:'Latitude',x:1479,y:1390,size:44,rot:true,w:163},
  {s:'[K]',x:2729,y:978,size:48,w:63}]);
colourBar(185,225,tempLabelPos,tempLabels,{l:2644,r:2693,t:1011,b:1769},4);
</script></body></html>
